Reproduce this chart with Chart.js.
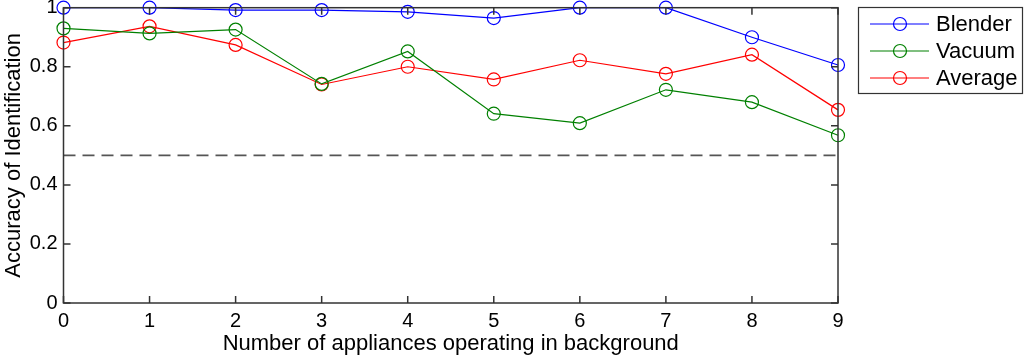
<!DOCTYPE html>
<html lang="en">
<head>
  <meta charset="UTF-8">
  <title>Accuracy of Identification</title>
  <script src="https://cdn.jsdelivr.net/npm/chart.js"></script>
  <style>
    body { margin: 0; padding: 0; background: white; }
    .wrap { width: 1024px; height: 357px; position: relative; }
  </style>
</head>
<body>
  <div class="wrap">
    <canvas id="lineCanvas"></canvas>
  </div>

  <script>
    // data
    const appliances = [0, 1, 2, 3, 4, 5, 6, 7, 8, 9];
    const blender = [1.0, 1.0, 0.992, 0.992, 0.986, 0.965, 1.0, 1.0, 0.90, 0.806];
    const vacuum = [0.930, 0.913, 0.926, 0.742, 0.852, 0.641, 0.609, 0.722, 0.680, 0.568];
    const average = [0.882, 0.937, 0.874, 0.740, 0.800, 0.757, 0.822, 0.776, 0.841, 0.654];
    const chanceX = [0, 9];
    const chanceY = [0.5, 0.5];
    const yTicks = [0, 0.2, 0.4, 0.6, 0.8, 1];

    const FONT = "'Liberation Sans', Arial, sans-serif";
    const AXIS = '#333333';

    function toPoints(xs, ys) {
      return xs.map((x, i) => ({ x: x, y: ys[i] }));
    }

    function series(label, values, color) {
      return {
        label: label,
        data: toPoints(appliances, values),
        borderColor: color,
        backgroundColor: 'rgba(0,0,0,0)',
        borderWidth: 1.2,
        pointRadius: 6.5,
        pointHoverRadius: 6.5,
        pointBorderWidth: 1.2,
        pointBorderColor: color,
        pointBackgroundColor: 'rgba(0,0,0,0)',
        tension: 0,
        clip: false
      };
    }

    // box around the plot with inward ticks on all four sides
    const boxPlugin = {
      id: 'box',
      afterDraw(chart) {
        const ctx = chart.ctx;
        const a = chart.chartArea;
        const xs = chart.scales.x;
        const ys = chart.scales.y;
        const len = 7;
        ctx.save();
        ctx.strokeStyle = AXIS;
        ctx.lineWidth = 1.5;
        ctx.strokeRect(a.left, a.top, a.right - a.left, a.bottom - a.top);
        ctx.beginPath();
        appliances.forEach(v => {
          const px = xs.getPixelForValue(v);
          ctx.moveTo(px, a.bottom); ctx.lineTo(px, a.bottom - len);
          ctx.moveTo(px, a.top); ctx.lineTo(px, a.top + len);
        });
        yTicks.forEach(v => {
          const py = ys.getPixelForValue(v);
          ctx.moveTo(a.left, py); ctx.lineTo(a.left + len, py);
          ctx.moveTo(a.right, py); ctx.lineTo(a.right - len, py);
        });
        ctx.stroke();
        ctx.restore();
      }
    };

    // MATLAB style legend box on the right
    const legendPlugin = {
      id: 'boxLegend',
      afterDraw(chart) {
        const ctx = chart.ctx;
        const sets = chart.data.datasets.filter(d => !d.hideInLegend);
        const left = 858.5, top = 7.5, w = 164, h = 86;
        ctx.save();
        ctx.fillStyle = 'white';
        ctx.fillRect(left, top, w, h);
        ctx.strokeStyle = AXIS;
        ctx.lineWidth = 1.2;
        ctx.strokeRect(left, top, w, h);
        ctx.font = '22px ' + FONT;
        ctx.textBaseline = 'middle';
        sets.forEach((d, i) => {
          const y = 24 + i * 27;
          ctx.strokeStyle = d.borderColor;
          ctx.lineWidth = 1.2;
          ctx.beginPath();
          ctx.moveTo(870, y); ctx.lineTo(929, y);
          ctx.stroke();
          ctx.beginPath();
          ctx.arc(900, y, 6.5, 0, Math.PI * 2);
          ctx.stroke();
          ctx.fillStyle = '#000';
          ctx.fillText(d.label, 936, y + 1);
        });
        ctx.restore();
      }
    };

    const chanceLine = {
      label: 'chance',
      hideInLegend: true,
      data: toPoints(chanceX, chanceY),
      borderColor: '#555555',
      borderWidth: 1.6,
      borderDash: [12, 7],
      pointRadius: 0,
      tension: 0
    };

    const ctx = document.getElementById('lineCanvas').getContext('2d');
    new Chart(ctx, {
      type: 'line',
      data: {
        datasets: [
          chanceLine,
          series('Blender', blender, '#0000ff'),
          series('Vacuum', vacuum, '#008000'),
          series('Average', average, '#ff0000')
        ]
      },
      options: {
        responsive: true,
        maintainAspectRatio: false,
        animation: false,
        layout: { padding: { left: 0, right: 186, top: 7, bottom: 0 } },
        plugins: {
          legend: { display: false },
          tooltip: { enabled: false }
        },
        scales: {
          x: {
            type: 'linear',
            min: 0,
            max: 9,
            grid: { display: false, drawTicks: false },
            border: { display: false },
            ticks: {
              stepSize: 1,
              color: '#000',
              padding: 6,
              font: { family: FONT, size: 20 }
            },
            title: {
              display: true,
              text: 'Number of appliances operating in background',
              color: '#000',
              padding: { top: 0, bottom: 0 },
              font: { family: FONT, size: 22 }
            },
            afterFit(scale) {
              scale.height = 54;
              scale.paddingLeft = 0;
              scale.paddingRight = 0;
            }
          },
          y: {
            min: 0,
            max: 1,
            grid: { display: false, drawTicks: false },
            border: { display: false },
            ticks: {
              stepSize: 0.2,
              color: '#000',
              padding: 6,
              font: { family: FONT, size: 20 },
              callback: v => String(Math.round(v * 10) / 10)
            },
            title: {
              display: true,
              text: 'Accuracy of Identification',
              color: '#000',
              padding: { top: 1, bottom: 0 },
              font: { family: FONT, size: 22 }
            },
            afterFit(scale) {
              scale.width = 63.5;
              scale.paddingTop = 0;
              scale.paddingBottom = 0;
            }
          }
        }
      },
      plugins: [boxPlugin, legendPlugin]
    });
  </script>
</body>
</html>
